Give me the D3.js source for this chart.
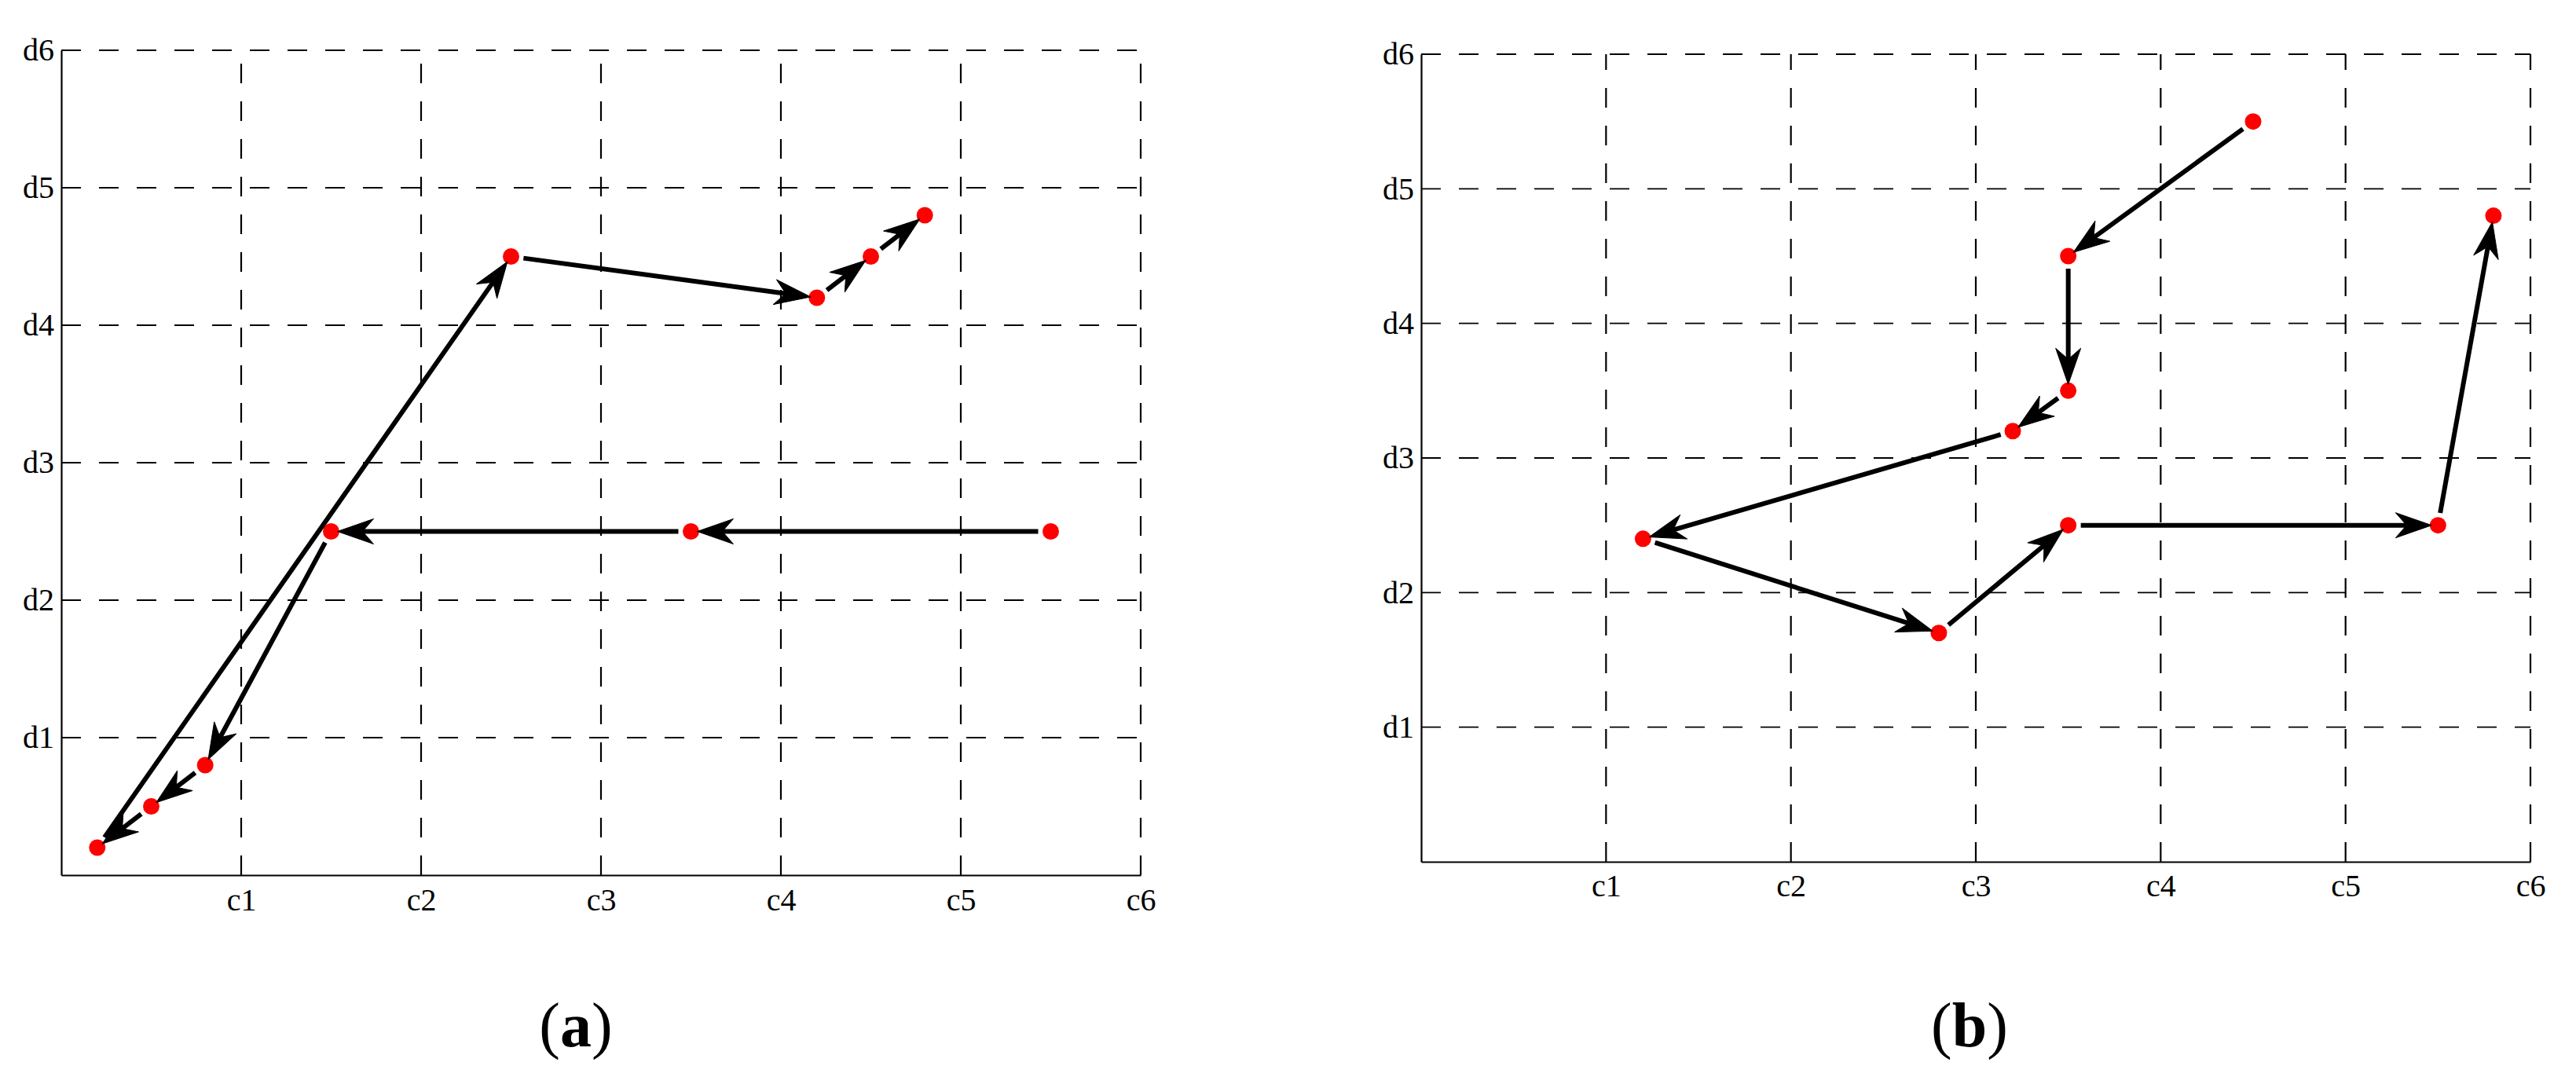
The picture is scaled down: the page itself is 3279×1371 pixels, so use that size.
<!DOCTYPE html>
<html>
<head>
<meta charset="utf-8">
<script src="https://cdn.jsdelivr.net/npm/d3@7"></script>
<style>
  html, body { margin: 0; padding: 0; background: #fff; }
  svg { display: block; }
  text { font-family: "Liberation Serif", "Times New Roman", serif; fill: #000; }
</style>
</head>
<body>
<svg id="chart" width="3279" height="1371"></svg>
<script>
// ---- data ----
const xTickValues = [1, 2, 3, 4, 5, 6];
const xTickLabels = ["c1", "c2", "c3", "c4", "c5", "c6"];
const yTickValues = [1, 2, 3, 4, 5, 6];
const yTickLabels = ["d1", "d2", "d3", "d4", "d5", "d6"];

// panel (a): visiting order of points
const pathAX = [5.5, 3.5, 1.5, 0.8, 0.5, 0.2, 2.5, 4.2, 4.5, 4.8];
const pathAY = [2.5, 2.5, 2.5, 0.8, 0.5, 0.2, 4.5, 4.2, 4.5, 4.8];
// panel (b)
const pathBX = [4.5, 3.5, 3.5, 3.2, 1.2, 2.8, 3.5, 5.5, 5.8];
const pathBY = [5.5, 4.5, 3.5, 3.2, 2.4, 1.7, 2.5, 2.5, 4.8];

const panelLabels = ["a", "b"];

// ---- drawing ----
const svg = d3.select("#chart");
svg.append("rect").attr("width", 3279).attr("height", 1371).attr("fill", "#fff");

function drawPanel(cfg) {
  const x = d3.scaleLinear().domain([0, 6]).range([cfg.left, cfg.right]);
  const y = d3.scaleLinear().domain([0, 6]).range([cfg.bottom, cfg.top]);
  const g = svg.append("g");

  // grid lines (dashed)
  g.append("g").selectAll("line.v").data(xTickValues).join("line")
    .attr("x1", d => x(d)).attr("x2", d => x(d))
    .attr("y1", y(0)).attr("y2", y(6))
    .attr("stroke", "#000").attr("stroke-width", 2.2)
    .attr("stroke-dasharray", "25,23");
  g.append("g").selectAll("line.h").data(yTickValues).join("line")
    .attr("x1", x(0)).attr("x2", x(6))
    .attr("y1", d => y(d)).attr("y2", d => y(d))
    .attr("stroke", "#000").attr("stroke-width", 1.8)
    .attr("stroke-dasharray", "25,23");

  // axes
  const xAxis = d3.axisBottom(x).tickValues(xTickValues)
    .tickFormat((d, i) => xTickLabels[i]).tickSize(0).tickSizeOuter(0);
  const gx = g.append("g").attr("transform", `translate(0,${y(0)})`).call(xAxis);
  gx.select(".domain").attr("stroke", "#000").attr("stroke-width", 2.2);
  gx.selectAll("text").attr("y", cfg.xLabelDy).attr("dy", 0)
    .style("font-family", '"Liberation Serif", "Times New Roman", serif')
    .style("font-size", "40px").attr("fill", "#000");

  const yAxis = d3.axisLeft(y).tickValues(yTickValues)
    .tickFormat((d, i) => yTickLabels[i]).tickSize(0).tickSizeOuter(0);
  const gy = g.append("g").attr("transform", `translate(${x(0)},0)`).call(yAxis);
  gy.select(".domain").attr("stroke", "#000").attr("stroke-width", 2.2);
  gy.selectAll("text").attr("x", -9).attr("dy", "0.32em")
    .style("font-family", '"Liberation Serif", "Times New Roman", serif')
    .style("font-size", "40px").attr("fill", "#000");

  // points
  const pts = cfg.xs.map((v, i) => [x(v), y(cfg.ys[i])]);
  g.append("g").selectAll("circle").data(pts).join("circle")
    .attr("cx", d => d[0]).attr("cy", d => d[1]).attr("r", 10.5)
    .attr("fill", "#ff0000");

  // arrows
  const segs = d3.pairs(pts);
  const L = 46, W = 16, N = 32, startOff = 16, tipOff = 8;
  const ag = g.append("g");
  segs.forEach(([p0, p1]) => {
    const dx = p1[0] - p0[0], dy = p1[1] - p0[1];
    const len = Math.hypot(dx, dy);
    const ux = dx / len, uy = dy / len;
    const nx = -uy, ny = ux;
    const s = [p0[0] + ux * startOff, p0[1] + uy * startOff];
    const t = [p1[0] - ux * tipOff, p1[1] - uy * tipOff];
    const notch = [t[0] - ux * N, t[1] - uy * N];
    ag.append("line")
      .attr("x1", s[0]).attr("y1", s[1])
      .attr("x2", notch[0] + ux * 2).attr("y2", notch[1] + uy * 2)
      .attr("stroke", "#000").attr("stroke-width", 6);
    const head = [
      t,
      [t[0] - ux * L + nx * W, t[1] - uy * L + ny * W],
      notch,
      [t[0] - ux * L - nx * W, t[1] - uy * L - ny * W]
    ];
    ag.append("path")
      .attr("d", d3.line()(head) + "Z")
      .attr("fill", "#000").attr("stroke", "#000").attr("stroke-width", 1);
  });

  // panel label
  const lab = svg.append("text")
    .attr("x", cfg.labelX).attr("y", 1332)
    .attr("text-anchor", "middle")
    .style("font-size", "80px");
  lab.append("tspan").text("(");
  lab.append("tspan").style("font-weight", "bold").text(cfg.label);
  lab.append("tspan").text(")");
}

drawPanel({ left: 78, right: 1452, top: 64, bottom: 1114, xLabelDy: 45,
            xs: pathAX, ys: pathAY, label: panelLabels[0], labelX: 733 });
drawPanel({ left: 1809, right: 3221, top: 69, bottom: 1097, xLabelDy: 44,
            xs: pathBX, ys: pathBY, label: panelLabels[1], labelX: 2507 });
</script>
</body>
</html>
